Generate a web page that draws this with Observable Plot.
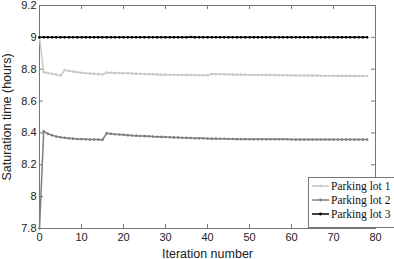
<!DOCTYPE html>
<html><head><meta charset="utf-8">
<script src="https://cdn.jsdelivr.net/npm/d3@7"></script>
<script src="https://cdn.jsdelivr.net/npm/@observablehq/plot@0.6"></script>
<style>
body{margin:0;background:#fff;}
#wrap{position:relative;width:394px;height:259px;}
#legend{position:absolute;left:308px;top:177px;width:86px;height:51px;border:1px solid #777;border-right:none;background:#fff;box-sizing:border-box;font-family:"Liberation Serif","DejaVu Serif",serif;font-size:11.5px;color:#111;}
.item{position:absolute;left:2px;height:14px;display:flex;align-items:center;white-space:nowrap;}
</style>
</head><body>
<div id="wrap"><div id="chart"></div><div id="legend"></div></div>
<script>
const seriesNames = ["Parking lot 1", "Parking lot 2", "Parking lot 3"];
const seriesColors = ["#c9c9c2", "#7f7f7f", "#000000"];
const iterations = [0,1,2,3,4,5,6,7,8,9,10,11,12,13,14,15,16,17,18,19,20,21,22,23,24,25,26,27,28,29,30,31,32,33,34,35,36,37,38,39,40,41,42,43,44,45,46,47,48,49,50,51,52,53,54,55,56,57,58,59,60,61,62,63,64,65,66,67,68,69,70,71,72,73,74,75,76,77,78];
const lot1 = [9.000,8.781,8.776,8.771,8.766,8.760,8.795,8.789,8.785,8.781,8.778,8.775,8.773,8.771,8.769,8.767,8.779,8.778,8.777,8.776,8.775,8.774,8.773,8.772,8.771,8.770,8.769,8.768,8.767,8.766,8.766,8.765,8.765,8.764,8.764,8.763,8.763,8.763,8.762,8.762,8.762,8.770,8.769,8.768,8.768,8.767,8.767,8.766,8.766,8.765,8.765,8.764,8.764,8.764,8.763,8.763,8.763,8.762,8.762,8.762,8.761,8.761,8.761,8.760,8.760,8.760,8.760,8.759,8.759,8.759,8.759,8.758,8.758,8.758,8.758,8.758,8.757,8.757,8.757];
const lot2 = [7.800,8.410,8.395,8.385,8.378,8.373,8.369,8.366,8.364,8.362,8.361,8.360,8.359,8.358,8.358,8.357,8.398,8.395,8.392,8.390,8.388,8.386,8.384,8.383,8.381,8.380,8.379,8.377,8.376,8.375,8.374,8.373,8.372,8.371,8.370,8.369,8.368,8.367,8.366,8.366,8.365,8.364,8.364,8.363,8.363,8.362,8.362,8.361,8.361,8.361,8.360,8.360,8.360,8.360,8.360,8.360,8.360,8.360,8.360,8.360,8.359,8.359,8.359,8.359,8.359,8.359,8.359,8.359,8.359,8.359,8.358,8.358,8.358,8.358,8.358,8.358,8.358,8.358,8.358];
const lot3 = [9.000,9.000,9.000,9.000,9.000,9.000,9.000,9.000,9.000,9.000,9.000,9.000,9.000,9.000,9.000,9.000,9.000,9.000,9.000,9.000,9.000,9.000,9.000,9.000,9.000,9.000,9.000,9.000,9.000,9.000,9.000,9.000,9.000,9.000,9.000,9.000,9.002,9.000,9.000,9.000,9.000,9.000,9.000,9.000,9.000,9.000,9.000,9.000,9.000,9.000,9.000,9.000,9.000,9.000,9.000,9.000,9.000,9.000,9.000,9.000,9.000,9.000,9.000,9.000,9.000,9.000,9.000,9.000,9.000,9.000,9.000,9.000,9.000,9.000,9.000,9.000,9.000,9.000,9.000];
const xTicks = [0,10,20,30,40,50,60,70,80];
const yTicks = [7.8,8,8.2,8.4,8.6,8.8,9,9.2];
const xLabel = "Iteration number";
const yLabel = "Saturation time (hours)";

const seriesValues = [lot1, lot2, lot3];
const data = [];
seriesValues.forEach((vals, s) => vals.forEach((v, i) => data.push({series: seriesNames[s], x: iterations[i], y: v})));

const W = 394, H = 259, mT = 5, mB = 31, mL = 39, mR = 19;
const plotH = H - mT - mB, plotW = W - mL - mR;
const tick = 4;
const font = "'Liberation Sans', Arial, sans-serif";

const chart = Plot.plot({
  width: W, height: H,
  marginTop: mT, marginBottom: mB, marginLeft: mL, marginRight: mR,
  style: {fontFamily: font, fontSize: "11px", color: "#222", background: "#fff"},
  x: {domain: [0, 80]},
  y: {domain: [7.8, 9.2]},
  color: {domain: seriesNames, range: seriesColors},
  marks: [
    Plot.axisX(xTicks, {tickSize: 0, tickPadding: 5, tickFormat: d => String(d), fontSize: 11, label: null}),
    Plot.axisY(yTicks, {tickSize: 0, tickPadding: 3, tickFormat: d => String(d), fontSize: 11, label: null}),
    Plot.axisX({ticks: [], label: xLabel, labelArrow: "none", labelAnchor: "center", labelOffset: 29, fontSize: 12.5, tickSize: 0}),
    Plot.axisY({ticks: [], label: yLabel, labelArrow: "none", labelAnchor: "center", labelOffset: 37, fontSize: 12.5, tickSize: 0}),
    Plot.tickX(xTicks, {x: d => d, stroke: "#777", insetTop: plotH - tick}),
    Plot.tickX(xTicks, {x: d => d, stroke: "#777", insetBottom: plotH - tick}),
    Plot.tickY(yTicks, {y: d => d, stroke: "#777", insetRight: plotW - tick}),
    Plot.tickY(yTicks, {y: d => d, stroke: "#777", insetLeft: plotW - tick}),
    Plot.frame({stroke: "#777"}),
    Plot.line(data, {x: "x", y: "y", z: "series", stroke: "series", strokeWidth: 1.5}),
    Plot.dot(data, {x: "x", y: "y", fill: "series", r: 1.3, stroke: null})
  ]
});
document.getElementById("chart").appendChild(chart);

const leg = document.getElementById("legend");
seriesNames.forEach((name, i) => {
  const it = document.createElement("div");
  it.className = "item";
  it.style.top = (1 + i * 14.2) + "px";
  it.innerHTML = `<svg width="19" height="8"><line x1="1" y1="4" x2="18" y2="4" stroke="${seriesColors[i]}" stroke-width="1.5"/><circle cx="9.5" cy="4" r="1.4" fill="${seriesColors[i]}"/></svg><span style="margin-left:1px">${name}</span>`;
  leg.appendChild(it);
});
</script>
</body></html>
